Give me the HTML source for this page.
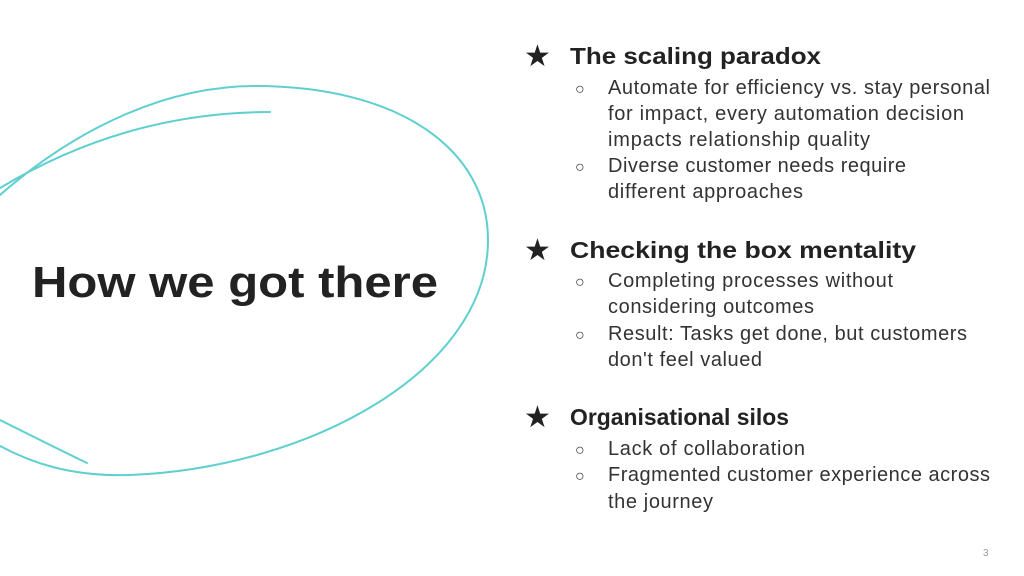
<!DOCTYPE html>
<html><head><style>html,body{margin:0;padding:0;background:#fff;}svg{display:block}</style></head>
<body>
<svg width="1024" height="576" viewBox="0 0 1024 576" xmlns="http://www.w3.org/2000/svg">
<g fill="none" stroke="#5fcfcf" stroke-width="2" stroke-linecap="round">
<path d="M0,195 C80,125 170,86 255,86 C400,86 488,150 488,240 C488,370 310,468 130,475 C70,477 30,462 0,446"/>
<path d="M0,188 C80,140 170,112 270,112"/>
<path d="M0,420 C30,435 60,450 87,463"/>
</g>
<g font-family="Liberation Sans, sans-serif" fill="#222">
<text x="32" y="297" font-size="44" font-weight="bold" textLength="406" lengthAdjust="spacingAndGlyphs">How we got there</text>
<g font-size="23" font-weight="bold">
<text x="524" y="66" font-size="30" font-weight="normal">★</text>
<text x="570" y="64" textLength="251" lengthAdjust="spacingAndGlyphs">The scaling paradox</text>
<text x="524" y="260" font-size="30" font-weight="normal">★</text>
<text x="570" y="258" textLength="346" lengthAdjust="spacingAndGlyphs">Checking the box mentality</text>
<text x="524" y="427" font-size="30" font-weight="normal">★</text>
<text x="570" y="425" textLength="219" lengthAdjust="spacingAndGlyphs">Organisational silos</text>
</g>
<g font-size="20" fill="#333">
<text x="575" y="94" font-size="16">○</text>
<text x="608" y="94" textLength="382" lengthAdjust="spacing">Automate for efficiency vs. stay personal</text>
<text x="608" y="120" textLength="356" lengthAdjust="spacing">for impact, every automation decision</text>
<text x="608" y="146" textLength="262" lengthAdjust="spacing">impacts relationship quality</text>
<text x="575" y="172" font-size="16">○</text>
<text x="608" y="172" textLength="298" lengthAdjust="spacing">Diverse customer needs require</text>
<text x="608" y="198" textLength="195" lengthAdjust="spacing">different approaches</text>
<text x="575" y="287" font-size="16">○</text>
<text x="608" y="287" textLength="285" lengthAdjust="spacing">Completing processes without</text>
<text x="608" y="313" textLength="206" lengthAdjust="spacing">considering outcomes</text>
<text x="575" y="340" font-size="16">○</text>
<text x="608" y="340" textLength="359" lengthAdjust="spacing">Result: Tasks get done, but customers</text>
<text x="608" y="366" textLength="154" lengthAdjust="spacing">don't feel valued</text>
<text x="575" y="455" font-size="16">○</text>
<text x="608" y="455" textLength="197" lengthAdjust="spacing">Lack of collaboration</text>
<text x="575" y="481" font-size="16">○</text>
<text x="608" y="481" textLength="382" lengthAdjust="spacing">Fragmented customer experience across</text>
<text x="608" y="508" textLength="105" lengthAdjust="spacing">the journey</text>
</g>
<text x="983" y="556" font-size="10" fill="#999">3</text>
</g>
</svg>
</body></html>
